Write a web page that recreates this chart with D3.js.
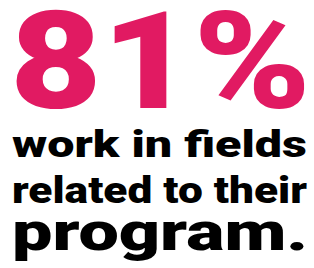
<!DOCTYPE html>
<html><head><meta charset="utf-8">
<script src="https://cdn.jsdelivr.net/npm/d3@7"></script>
<style>html,body{margin:0;padding:0;background:#fff;}svg{display:block;}</style>
</head><body>
<script>
const statValue = [81];
const statSuffix = ["%"];
const captionLines = ["work in fields", "related to their", "program."];

const W = 314, H = 268;
const svg = d3.select("body").append("svg").attr("width", W).attr("height", H);

const font = "Roboto, 'Inter', 'DejaVu Sans', sans-serif";
const left = 10, right = 311;

const rows = [
  {text: statValue[0] + statSuffix[0], size: 135, base: 108, color: "#E11A62", x0: 10, x1: 311},
  {text: captionLines[0], size: 36, base: 157, color: "#000", x0: 12, x1: 307},
  {text: captionLines[1], size: 36, base: 203, color: "#000", x0: 12, x1: 307},
  {text: captionLines[2], size: 51, base: 250, color: "#000", x0: 12, x1: 308}
];

svg.selectAll("text").data(rows).join("text")
  .attr("x", d => d.x0)
  .attr("y", d => d.base)
  .attr("font-family", font)
  .attr("font-weight", 900)
  .attr("font-size", d => d.size)
  .attr("fill", d => d.color)
  .attr("textLength", d => d.x1 - d.x0)
  .attr("lengthAdjust", "spacingAndGlyphs")
  .text(d => d.text);
</script>
</body></html>
